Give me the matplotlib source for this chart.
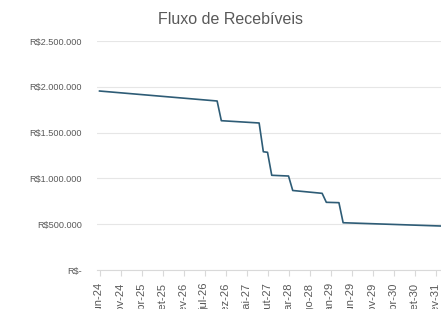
import matplotlib.pyplot as plt

# breakpoints of the receivables curve (month, value in R$)
months = ['2024-06', '2026-10', '2026-11', '2027-08', '2027-09', '2027-10', '2027-11',
          '2028-03', '2028-04', '2028-11', '2028-12', '2029-03', '2029-04', '2031-06']
values = [1954000, 1845000, 1630000, 1605000, 1291000, 1285000, 1034000,
          1026000, 868000, 837000, 739000, 735000, 516000, 476000]

ytick_values = [0, 500000, 1000000, 1500000, 2000000, 2500000]
ytick_labels = ['R$-', 'R$500.000', 'R$1.000.000', 'R$1.500.000', 'R$2.000.000', 'R$2.500.000']

xtick_labels = ['jun-24', 'nov-24', 'abr-25', 'set-25', 'fev-26', 'jul-26', 'dez-26', 'mai-27',
                'out-27', 'mar-28', 'ago-28', 'jan-29', 'jun-29', 'nov-29', 'abr-30', 'set-30',
                'fev-31']

# month index counted from jun-24
def month_index(s):
    y, m = s.split('-')
    return (int(y) - 2024) * 12 + int(m) - 6

x = [month_index(m) for m in months]

plt.rcParams['font.family'] = ['Liberation Sans', 'DejaVu Sans']
grey = '#595959'

fig = plt.figure(figsize=(4.41, 3.09), dpi=100)
ax = fig.add_axes([0.2209, 0.1262, 0.7791, 0.7411])

ax.plot(x, values, color='#2E5C76', linewidth=1.2)

ax.set_xlim(-0.5, 81.3)
ax.set_ylim(0, 2500000)
ax.set_yticks(ytick_values)
ax.set_yticklabels(ytick_labels)
ax.set_xticks(range(0, 5 * len(xtick_labels), 5))
ax.set_xticklabels(xtick_labels, rotation=90)

ax.grid(axis='y', color='#E6E6E6', linewidth=0.8)
ax.set_axisbelow(True)
for side in ['top', 'right', 'left']:
    ax.spines[side].set_visible(False)
ax.spines['bottom'].set_color('#D9D9D9')
ax.spines['bottom'].set_linewidth(0.8)

ax.tick_params(axis='y', length=0, pad=11, labelsize=6.6, labelcolor=grey)
ax.tick_params(axis='x', length=4, color='#D9D9D9', width=0.8, pad=5,
               labelsize=8, labelcolor=grey)

fig.text(231 / 441, 1 - 20 / 309, 'Fluxo de Recebíveis', ha='center', va='center',
         fontsize=11.5, color=grey)

fig.savefig('out.png', dpi=100)
